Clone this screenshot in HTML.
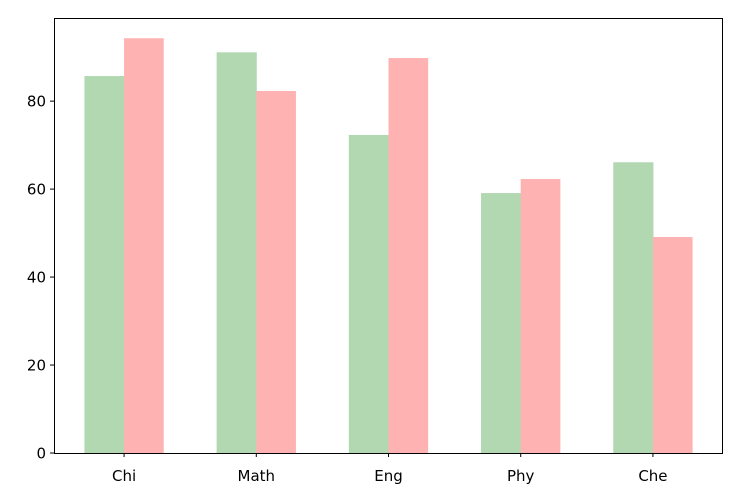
<!DOCTYPE html>
<html>
<head>
<meta charset="utf-8">
<style>
  html,body{margin:0;padding:0;background:#fff;}
  svg{display:block;font-family:"DejaVu Sans","Liberation Sans",sans-serif;}
</style>
</head>
<body>
<svg id="chart" width="741" height="500" viewBox="0 0 741 500"></svg>
<script>
const categories = ["Chi","Math","Eng","Phy","Che"];
const seriesA = [85.7, 91.1, 72.3, 59.1, 66.1];
const seriesB = [94.3, 82.3, 89.8, 62.3, 49.1];
const yTicks = [0,20,40,60,80];

const L=54, R=723, T=18, B=453;
const xMin=-0.53, xMax=4.53, yMin=0, yMax=98.9;
const barW=0.3;
const xs = v => L + (v - xMin)/(xMax - xMin)*(R-L);
const ys = v => B - (v - yMin)/(yMax - yMin)*(B-T);
const NS="http://www.w3.org/2000/svg";
const svg=document.getElementById('chart');
function mk(tag, attrs){const e=document.createElementNS(NS,tag);for(const k in attrs)e.setAttribute(k,attrs[k]);svg.appendChild(e);return e;}

categories.forEach((c,i)=>{
  const a=mk('rect',{x:xs(i-barW),y:ys(seriesA[i]),width:xs(i)-xs(i-barW)+0.5,height:ys(0)-ys(seriesA[i]),fill:'#b2d8b2'});
  
  
  const b=mk('rect',{x:xs(i),y:ys(seriesB[i]),width:xs(i+barW)-xs(i),height:ys(0)-ys(seriesB[i]),fill:'#ffb2b2'});
  
  
  const t=mk('line',{x1:xs(i),x2:xs(i),y1:B,y2:B+4,stroke:'#000','stroke-width':1});
  
  
  const lbl=mk('text',{x:xs(i),y:B+28,'text-anchor':'middle','font-size':'15',fill:'#000'});
  lbl.textContent=c;
  
  
});
yTicks.forEach(v=>{
  const t=mk('line',{x1:L-4,x2:L,y1:ys(v),y2:ys(v),stroke:'#000','stroke-width':1});
  
  
  const lbl=mk('text',{x:L-8,y:ys(v)+5.5,'text-anchor':'end','font-size':'15',fill:'#000'});
  lbl.textContent=v;
  
  
});
const frame=mk('rect',{x:L+0.5,y:T+0.5,width:R-L-1,height:B-T,fill:'none',stroke:'#000','stroke-width':1});


</script>
</body>
</html>
